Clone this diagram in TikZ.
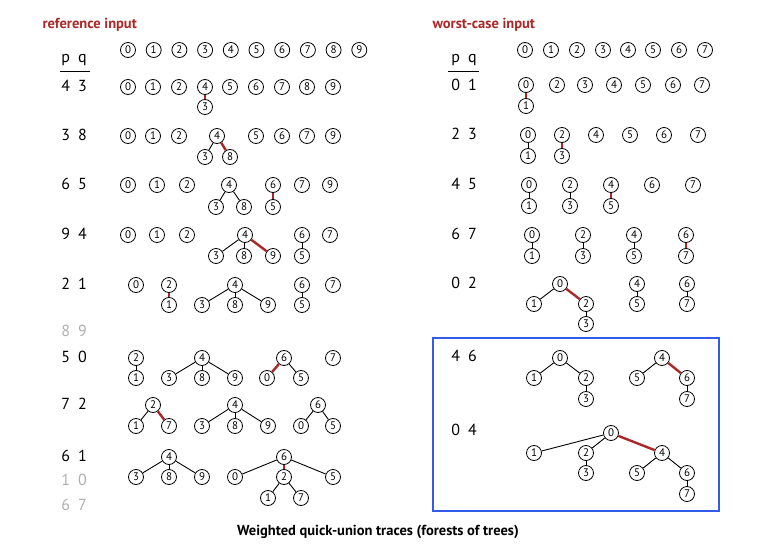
\documentclass[tikz,border=0pt]{standalone}
\usepackage{fontspec}
\setmainfont{PT Sans}
\usepackage{tikz}
\definecolor{linkred}{RGB}{170,40,40}
\definecolor{boxblue}{RGB}{50,90,235}
\definecolor{idle}{RGB}{175,175,175}
\tikzstyle{site} = [circle, draw=black, line width=0.8pt, minimum size=15pt, inner sep=0pt, font=\fontsize{11}{11}\selectfont]
\tikzstyle{link} = [line width=0.9pt, black]
\tikzstyle{newlink} = [line width=2.4pt, linkred]
\tikzstyle{pair} = [font=\fontsize{16}{16}\selectfont]
\tikzstyle{skip} = [pair, text=idle]
\tikzstyle{heading} = [anchor=west, font=\bfseries\fontsize{14.5}{14.5}\selectfont, text=linkred]
\newcommand{\pq}[2]{#1\hspace{8pt}#2}

\begin{document}
\begin{tikzpicture}[x=1pt,y=-1pt]
  \useasboundingbox (0,0) rectangle (764,554);

  % reference input
  \node (refttl) [heading] at (39,25) {reference input};
  \node (lhead) [pair] at (74,60) {\pq{p}{q}};
  \draw [line width=1pt] (60,71) -- (90,71);
  \foreach \i in {0,...,9}
    \node (t\i) [site] at ({128+25.7*\i},50) {\i};

  % 4 3
  \node (la) [pair] at (74,86) {\pq{4}{3}};
  \node (a0) [site] at (128,87) {0};
  \node (a1) [site] at (153,87) {1};
  \node (a2) [site] at (179,87) {2};
  \node (a4) [site] at (205,87) {4};
  \node (a5) [site] at (230,87) {5};
  \node (a6) [site] at (256,87) {6};
  \node (a7) [site] at (282,87) {7};
  \node (a8) [site] at (307,87) {8};
  \node (a9) [site] at (333,87) {9};
  \node (a3) [site] at (205,107) {3};
  \draw [newlink] (a4) -- (a3);

  % 3 8
  \node (lb) [pair] at (74,135) {\pq{3}{8}};
  \node (b0) [site] at (128,136) {0};
  \node (b1) [site] at (153,136) {1};
  \node (b2) [site] at (179,136) {2};
  \node (b4) [site] at (217,136) {4};
  \node (b5) [site] at (256,136) {5};
  \node (b6) [site] at (282,136) {6};
  \node (b7) [site] at (307,136) {7};
  \node (b9) [site] at (333,136) {9};
  \node (b3) [site] at (205,157) {3};
  \node (b8) [site] at (230,157) {8};
  \draw [link] (b4) -- (b3);
  \draw [newlink] (b4) -- (b8);

  % 6 5
  \node (lc) [pair] at (74,184) {\pq{6}{5}};
  \node (c0) [site] at (128,185) {0};
  \node (c1) [site] at (157,185) {1};
  \node (c2) [site] at (187,185) {2};
  \node (c4) [site] at (229,185) {4};
  \node (c6) [site] at (273,185) {6};
  \node (c7) [site] at (302,185) {7};
  \node (c9) [site] at (330,185) {9};
  \node (c3) [site] at (216,207) {3};
  \node (c8) [site] at (244,207) {8};
  \node (c5) [site] at (273,207) {5};
  \draw [link] (c4) -- (c3);
  \draw [link] (c4) -- (c8);
  \draw [newlink] (c6) -- (c5);

  % 9 4
  \node (ld) [pair] at (74,234) {\pq{9}{4}};
  \node (d0) [site] at (128,235) {0};
  \node (d1) [site] at (157,235) {1};
  \node (d2) [site] at (187,235) {2};
  \node (d4) [site] at (245,235) {4};
  \node (d6) [site] at (302,235) {6};
  \node (d7) [site] at (330,235) {7};
  \node (d3) [site] at (216,256) {3};
  \node (d8) [site] at (244,256) {8};
  \node (d9) [site] at (273,256) {9};
  \node (d5) [site] at (302,256) {5};
  \draw [link] (d4) -- (d3);
  \draw [link] (d4) -- (d8);
  \draw [newlink] (d4) -- (d9);
  \draw [link] (d6) -- (d5);

  % 2 1
  \node (le) [pair] at (74,284) {\pq{2}{1}};
  \node (e0) [site] at (136,285) {0};
  \node (e2) [site] at (169,285) {2};
  \node (e4) [site] at (235,285) {4};
  \node (e6) [site] at (302,285) {6};
  \node (e7) [site] at (333,285) {7};
  \node (e1) [site] at (169,305) {1};
  \node (e3) [site] at (202,305) {3};
  \node (e8) [site] at (235,305) {8};
  \node (e9) [site] at (268,305) {9};
  \node (e5) [site] at (302,305) {5};
  \draw [newlink] (e2) -- (e1);
  \draw [link] (e4) -- (e3);
  \draw [link] (e4) -- (e8);
  \draw [link] (e4) -- (e9);
  \draw [link] (e6) -- (e5);

  \node (lx1) [skip] at (74,331) {\pq{8}{9}};

  % 5 0
  \node (lf) [pair] at (74,357) {\pq{5}{0}};
  \node (f2) [site] at (136,358) {2};
  \node (f4) [site] at (202,358) {4};
  \node (f6) [site] at (284,358) {6};
  \node (f7) [site] at (333,358) {7};
  \node (f1) [site] at (136,378) {1};
  \node (f3) [site] at (169,378) {3};
  \node (f8) [site] at (202,378) {8};
  \node (f9) [site] at (235,378) {9};
  \node (f0) [site] at (267,378) {0};
  \node (f5) [site] at (301,378) {5};
  \draw [link] (f2) -- (f1);
  \draw [link] (f4) -- (f3);
  \draw [link] (f4) -- (f8);
  \draw [link] (f4) -- (f9);
  \draw [newlink] (f6) -- (f0);
  \draw [link] (f6) -- (f5);

  % 7 2
  \node (lg) [pair] at (74,404) {\pq{7}{2}};
  \node (g2) [site] at (153,405) {2};
  \node (g4) [site] at (235,405) {4};
  \node (g6) [site] at (318,405) {6};
  \node (g1) [site] at (136,426) {1};
  \node (g7) [site] at (169,426) {7};
  \node (g3) [site] at (202,426) {3};
  \node (g8) [site] at (235,426) {8};
  \node (g9) [site] at (268,426) {9};
  \node (g0) [site] at (301,426) {0};
  \node (g5) [site] at (333,426) {5};
  \draw [link] (g2) -- (g1);
  \draw [newlink] (g2) -- (g7);
  \draw [link] (g4) -- (g3);
  \draw [link] (g4) -- (g8);
  \draw [link] (g4) -- (g9);
  \draw [link] (g6) -- (g0);
  \draw [link] (g6) -- (g5);

  % 6 1
  \node (lh) [pair] at (74,456) {\pq{6}{1}};
  \node (h4) [site] at (169,457) {4};
  \node (h6) [site] at (284,457) {6};
  \node (h3) [site] at (136,477) {3};
  \node (h8) [site] at (169,477) {8};
  \node (h9) [site] at (202,477) {9};
  \node (h0) [site] at (235,477) {0};
  \node (h2) [site] at (284,477) {2};
  \node (h5) [site] at (333,477) {5};
  \node (h1) [site] at (268,498) {1};
  \node (h7) [site] at (301,498) {7};
  \draw [link] (h4) -- (h3);
  \draw [link] (h4) -- (h8);
  \draw [link] (h4) -- (h9);
  \draw [link] (h6) -- (h0);
  \draw [newlink] (h6) -- (h2);
  \draw [link] (h6) -- (h5);
  \draw [link] (h2) -- (h1);
  \draw [link] (h2) -- (h7);

  \node (lx2) [skip] at (74,480) {\pq{1}{0}};
  \node (lx3) [skip] at (74,505) {\pq{6}{7}};

  % worst-case input
  \node (wstttl) [heading] at (429,25) {worst-case input};
  \node (rhead) [pair] at (464,60) {\pq{p}{q}};
  \draw [line width=1pt] (448,71) -- (479,71);
  \foreach \i/\x in {0/525,1/551,2/577,3/603,4/628,5/653,6/679,7/705}
    \node (u\i) [site] at (\x,50) {\i};

  % 0 1
  \node (li) [pair] at (464,85) {\pq{0}{1}};
  \node (i0) [site] at (526,85) {0};
  \node (i2) [site] at (557,85) {2};
  \node (i3) [site] at (585,85) {3};
  \node (i4) [site] at (614,85) {4};
  \node (i5) [site] at (643,85) {5};
  \node (i6) [site] at (673,85) {6};
  \node (i7) [site] at (702,85) {7};
  \node (i1) [site] at (526,106) {1};
  \draw [newlink] (i0) -- (i1);

  % 2 3
  \node (lj) [pair] at (464,134) {\pq{2}{3}};
  \node (j0) [site] at (528,135) {0};
  \node (j2) [site] at (562,135) {2};
  \node (j4) [site] at (596,135) {4};
  \node (j5) [site] at (630,135) {5};
  \node (j6) [site] at (664,135) {6};
  \node (j7) [site] at (698,135) {7};
  \node (j1) [site] at (528,156) {1};
  \node (j3) [site] at (562,156) {3};
  \draw [link] (j0) -- (j1);
  \draw [newlink] (j2) -- (j3);

  % 4 5
  \node (lk) [pair] at (464,184) {\pq{4}{5}};
  \node (k0) [site] at (529,185) {0};
  \node (k2) [site] at (570,185) {2};
  \node (k4) [site] at (611,185) {4};
  \node (k6) [site] at (652,185) {6};
  \node (k7) [site] at (693,185) {7};
  \node (k1) [site] at (529,206) {1};
  \node (k3) [site] at (570,206) {3};
  \node (k5) [site] at (611,206) {5};
  \draw [link] (k0) -- (k1);
  \draw [link] (k2) -- (k3);
  \draw [newlink] (k4) -- (k5);

  % 6 7
  \node (ll) [pair] at (464,234) {\pq{6}{7}};
  \node (l0) [site] at (532,235) {0};
  \node (l2) [site] at (583,235) {2};
  \node (l4) [site] at (634,235) {4};
  \node (l6) [site] at (686,235) {6};
  \node (l1) [site] at (532,256) {1};
  \node (l3) [site] at (583,256) {3};
  \node (l5) [site] at (634,256) {5};
  \node (l7) [site] at (686,256) {7};
  \draw [link] (l0) -- (l1);
  \draw [link] (l2) -- (l3);
  \draw [link] (l4) -- (l5);
  \draw [newlink] (l6) -- (l7);

  % 0 2
  \node (lm) [pair] at (464,283) {\pq{0}{2}};
  \node (m0) [site] at (560,284) {0};
  \node (m4) [site] at (637,284) {4};
  \node (m6) [site] at (687,284) {6};
  \node (m1) [site] at (534,304) {1};
  \node (m2) [site] at (586,304) {2};
  \node (m5) [site] at (637,304) {5};
  \node (m7) [site] at (687,304) {7};
  \node (m3) [site] at (586,324) {3};
  \draw [link] (m0) -- (m1);
  \draw [newlink] (m0) -- (m2);
  \draw [link] (m2) -- (m3);
  \draw [link] (m4) -- (m5);
  \draw [link] (m6) -- (m7);

  \draw [boxblue, line width=1.4pt] (433,338) rectangle (719,511);

  % 4 6
  \node (ln) [pair] at (464,356) {\pq{4}{6}};
  \node (n0) [site] at (560,358) {0};
  \node (n4) [site] at (662,358) {4};
  \node (n1) [site] at (534,378) {1};
  \node (n2) [site] at (586,378) {2};
  \node (n5) [site] at (637,378) {5};
  \node (n6) [site] at (687,378) {6};
  \node (n3) [site] at (586,399) {3};
  \node (n7) [site] at (687,399) {7};
  \draw [link] (n0) -- (n1);
  \draw [link] (n0) -- (n2);
  \draw [link] (n2) -- (n3);
  \draw [link] (n4) -- (n5);
  \draw [newlink] (n4) -- (n6);
  \draw [link] (n6) -- (n7);

  % 0 4
  \node (lo) [pair] at (464,430) {\pq{0}{4}};
  \node (o0) [site] at (611,433) {0};
  \node (o1) [site] at (534,453) {1};
  \node (o2) [site] at (586,453) {2};
  \node (o4) [site] at (662,453) {4};
  \node (o3) [site] at (586,473) {3};
  \node (o5) [site] at (637,473) {5};
  \node (o6) [site] at (687,473) {6};
  \node (o7) [site] at (687,494) {7};
  \draw [link] (o0) -- (o1);
  \draw [link] (o0) -- (o2);
  \draw [link] (o2) -- (o3);
  \draw [newlink] (o0) -- (o4);
  \draw [link] (o4) -- (o5);
  \draw [link] (o4) -- (o6);
  \draw [link] (o6) -- (o7);

  \node (caption) [font=\bfseries\fontsize{14.5}{14.5}\selectfont] at (378,532) {Weighted quick-union traces (forests of trees)};
\end{tikzpicture}
\end{document}
